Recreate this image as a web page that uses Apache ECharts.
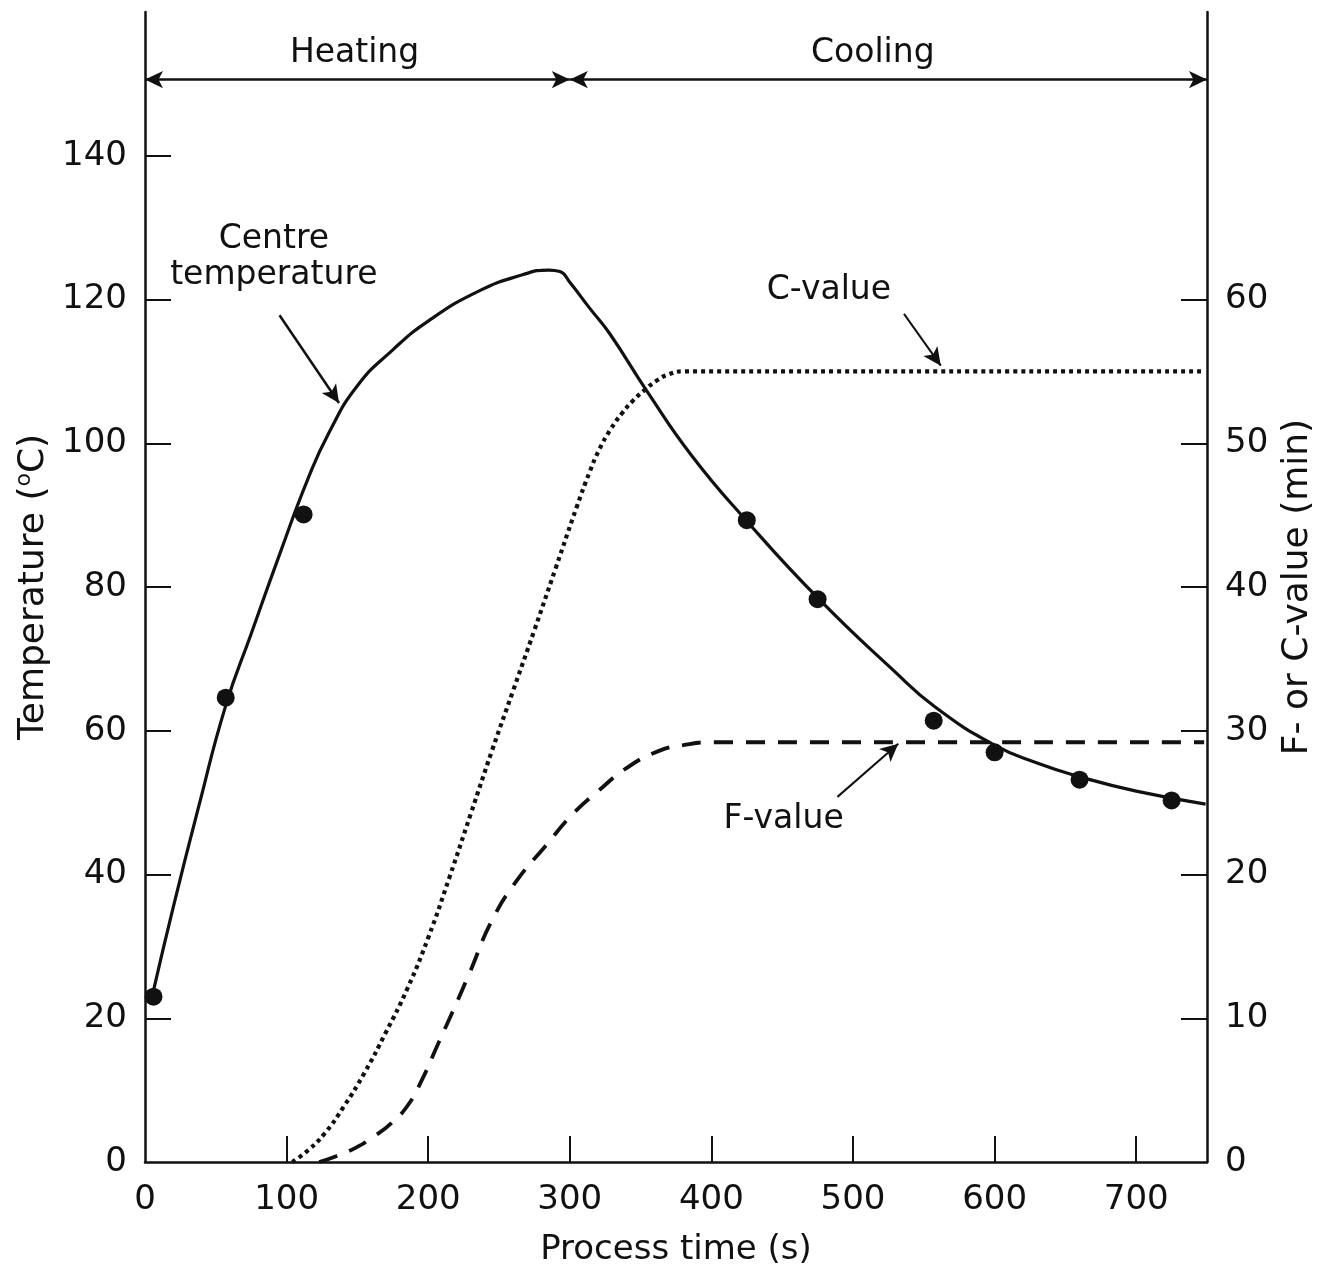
<!DOCTYPE html>
<html>
<head>
<meta charset="utf-8">
<script src="https://cdn.jsdelivr.net/npm/echarts@6/dist/echarts.min.js"></script>
<style>
html,body{margin:0;padding:0;background:#fff;}
#chart{width:1322px;height:1272px;}
</style>
</head>
<body>
<div id="chart"></div>
<script>
// ---- data ----
const tempTime  = [5, 20, 38, 57, 75, 95, 115, 130, 150, 175, 200, 236, 266, 285, 293, 300, 314, 328, 354, 386, 424, 476, 528, 558, 600, 630, 660, 700, 749];
const tempValue = [23, 35.5, 49.5, 63.5, 73.5, 84.5, 95, 101.5, 108, 113, 117, 121.2, 123.4, 124.1, 123.9, 122.4, 118.8, 115.3, 107.4, 98.3, 89.4, 78.3, 68.5, 63.3, 58, 55.5, 53.6, 51.6, 49.8];

const dotTime  = [6, 57, 112, 425, 475, 557, 600, 660, 725];
const dotTemp  = [23, 64.6, 90.1, 89.3, 78.3, 61.4, 57.0, 53.2, 50.3];

const cTime  = [104, 115, 127, 140, 155, 170, 185, 200, 215, 230, 245, 260, 275, 290, 305, 314, 321, 329, 337, 345, 354, 362, 370, 380, 748];
const cValue = [0, 0.8, 2.0, 3.8, 6.2, 9.0, 12.0, 15.6, 19.8, 24.2, 28.6, 32.8, 37.0, 41.3, 45.6, 48.0, 49.6, 51.0, 52.1, 53.0, 53.8, 54.4, 54.8, 55.0, 55.0];

const fTime  = [123, 135, 149, 162, 174, 186, 196, 206, 217, 229, 245, 262, 283, 302, 320, 340, 363, 380, 400, 748];
const fValue = [0, 0.4, 1.0, 1.8, 2.7, 4.0, 5.8, 8.0, 10.4, 13.1, 16.8, 19.5, 22.0, 24.2, 25.8, 27.4, 28.6, 29.0, 29.2, 29.2];

const xTicks     = [0, 100, 200, 300, 400, 500, 600, 700];
const leftTicks  = [0, 20, 40, 60, 80, 100, 120, 140];
const rightTicks = [0, 10, 20, 30, 40, 50, 60];

// phase arrows (time, temperature) and labels
const phaseNames  = ['Heating', 'Cooling'];
const phaseStart  = [0, 300];
const phaseEnd    = [300, 750];
const phaseLabelT = [148, 514];
const phaseArrowY = 150.6;
const phaseLabelY = 154.2;

// annotation texts and arrows [from, to] in data coordinates
const tempNote = {text: 'Centre\ntemperature', at: [91, 125.8], from: [95, 117.8], to: [137, 105.6]};
const cNote    = {text: 'C-value', at: [483, 60.6], from: [536, 59.0], to: [562, 55.4]};
const fNote    = {text: 'F-value', at: [451, 23.8], from: [489, 25.4], to: [532, 29.1]};

// ---- chart ----
const FONT = 'DejaVu Sans';
const black = '#111';
function pairs(xs, ys){ return xs.map((x,i)=>[x, ys[i]]); }

function textPoint(coord, text){
  return {coord: coord, symbol: 'circle', symbolSize: 0,
    label: {show: true, position: 'inside', formatter: text, color: black,
      fontFamily: FONT, fontSize: 33, lineHeight: 36, align: 'center'}};
}
function arrow(from, to, both){
  return [{coord: from, symbol: both ? 'arrow' : 'none'}, {coord: to, symbol: 'arrow'}];
}

const chart = echarts.init(document.getElementById('chart'), null, {renderer: 'canvas'});
chart.setOption({
  animation: false,
  backgroundColor: '#fff',
  grid: {left: 145, right: 115, top: 12, bottom: 110, containLabel: false, outerBoundsMode: 'none'},
  xAxis: {
    type: 'value', min: 0, max: 750, interval: 50,
    name: 'Process time (s)', nameLocation: 'middle', nameGap: 71,
    nameTextStyle: {color: black, fontFamily: FONT, fontSize: 34},
    axisLine: {show: true, lineStyle: {color: black, width: 2.5}},
    axisTick: {show: true, inside: true, length: 26, customValues: xTicks.slice(1), lineStyle: {color: black, width: 2}},
    axisLabel: {show: true, customValues: xTicks, margin: 21, color: black, fontFamily: FONT, fontSize: 34},
    splitLine: {show: false}
  },
  yAxis: [{
    type: 'value', min: 0, max: 160, interval: 20, position: 'left',
    name: 'Temperature ({sup|o}C)', nameLocation: 'middle', nameGap: 90, nameRotate: 90,
    nameTextStyle: {color: black, fontFamily: FONT, fontSize: 36,
      rich: {sup: {color: black, fontFamily: FONT, fontSize: 22, verticalAlign: 'top', lineHeight: 40}}},
    axisLine: {show: true, lineStyle: {color: black, width: 2.5}},
    axisTick: {show: true, inside: true, length: 26, customValues: leftTicks.slice(1), lineStyle: {color: black, width: 2}},
    axisLabel: {show: true, customValues: leftTicks, margin: 18, color: black, fontFamily: FONT, fontSize: 34},
    splitLine: {show: false}
  }, {
    type: 'value', min: 0, max: 80, interval: 10, position: 'right',
    name: 'F- or C-value (min)', nameLocation: 'middle', nameGap: 70, nameRotate: 90,
    nameTextStyle: {color: black, fontFamily: FONT, fontSize: 36},
    axisLine: {show: true, lineStyle: {color: black, width: 2.5}},
    axisTick: {show: true, inside: true, length: 26, customValues: rightTicks.slice(1), lineStyle: {color: black, width: 2}},
    axisLabel: {show: true, customValues: rightTicks, margin: 18, color: black, fontFamily: FONT, fontSize: 34},
    splitLine: {show: false}
  }],
  series: [{
    name: 'Centre temperature', type: 'line', yAxisIndex: 0,
    data: pairs(tempTime, tempValue), smooth: 0.5, showSymbol: false, symbol: 'none',
    lineStyle: {color: black, width: 3.2},
    markLine: {
      silent: true, symbolSize: [13, 18], label: {show: false},
      lineStyle: {color: black, width: 2.5, type: 'solid'},
      data: phaseNames.map((n,i)=>arrow([phaseStart[i], phaseArrowY], [phaseEnd[i], phaseArrowY], true))
        .concat([arrow(tempNote.from, tempNote.to, false)])
    },
    markPoint: {
      silent: true,
      data: phaseNames.map((n,i)=>textPoint([phaseLabelT[i], phaseLabelY], n))
        .concat([textPoint(tempNote.at, tempNote.text)])
    }
  }, {
    name: 'Measured', type: 'scatter', yAxisIndex: 0,
    data: pairs(dotTime, dotTemp), symbol: 'circle', symbolSize: 18,
    itemStyle: {color: black, opacity: 1}
  }, {
    name: 'C-value', type: 'line', yAxisIndex: 1,
    data: pairs(cTime, cValue), smooth: 0.5, showSymbol: false, symbol: 'none',
    lineStyle: {color: black, width: 4.2, type: [4, 4]},
    markLine: {
      silent: true, symbolSize: [13, 18], label: {show: false},
      lineStyle: {color: black, width: 2, type: 'solid'},
      data: [arrow(cNote.from, cNote.to, false)]
    },
    markPoint: {silent: true, data: [textPoint(cNote.at, cNote.text)]}
  }, {
    name: 'F-value', type: 'line', yAxisIndex: 1,
    data: pairs(fTime, fValue), smooth: 0.5, showSymbol: false, symbol: 'none',
    lineStyle: {color: black, width: 3.8, type: [19, 13]},
    markLine: {
      silent: true, symbolSize: [13, 18], label: {show: false},
      lineStyle: {color: black, width: 2, type: 'solid'},
      data: [arrow(fNote.from, fNote.to, false)]
    },
    markPoint: {silent: true, data: [textPoint(fNote.at, fNote.text)]}
  }]
});
</script>
</body>
</html>
